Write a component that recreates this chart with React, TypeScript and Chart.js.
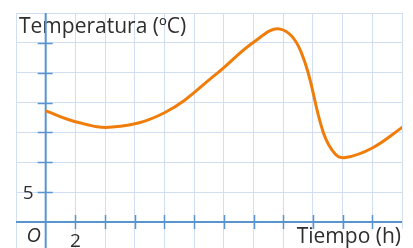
import React, { useEffect, useRef } from "react";
import { Chart, registerables } from "chart.js";

Chart.register(...registerables);

// Data (time in hours, temperature in ºC)
const hours = [0, 2, 4.5, 8, 11.5, 14.0, 15.8, 17.2, 18.7, 19.5, 20.2, 22.0, 24.1];
const temps = [18.6, 16.8, 15.9, 18.3, 24.8, 30.1, 32.3, 28.5, 15.0, 11.4, 10.8, 12.4, 16.0];

// Axis tick marks and labels
const xTickValues = [2, 4, 6, 8, 10, 12, 14, 16, 18, 20, 22];
const yTickValues = [5, 10, 15, 20, 25, 30];
const xLabelValues = [2];
const yLabelValues = [5];
const yTitle = "Temperatura (ºC)";
const xTitle = "Tiempo (h)";
const originLabel = "O";

const W = 413;
const H = 248;
const GRID = "rgb(210,223,243)";
const AXIS = "rgb(88,148,208)";
const CURVE = "#f07d0a";
const TEXT = "#2e2e2e";
const FONT = "'Open Sans', 'Noto Sans', sans-serif";

const overlay = {
  id: "overlay",
  beforeDatasetsDraw(chart: any) {
    const ctx = chart.ctx as CanvasRenderingContext2D;
    const xs = chart.scales.x;
    const ys = chart.scales.y;
    const area = chart.chartArea;
    const x0 = xs.getPixelForValue(0);
    const y0 = ys.getPixelForValue(0);
    ctx.save();

    // white box behind the x title
    ctx.fillStyle = "#ffffff";
    ctx.fillRect(290, y0 + 7, area.right - 290 + 11, H - (y0 + 7));

    // title texts
    ctx.fillStyle = TEXT;
    ctx.font = `21px ${FONT}`;
    ctx.textAlign = "left";
    ctx.textBaseline = "alphabetic";
    ctx.fillText(yTitle, area.left + 3, area.top + 20);
    ctx.textAlign = "right";
    ctx.fillText(xTitle, area.right - 1, y0 + 21);

    // axes
    ctx.strokeStyle = AXIS;
    ctx.lineWidth = 2;
    ctx.beginPath();
    ctx.moveTo(area.left, y0);
    ctx.lineTo(area.right, y0);
    ctx.moveTo(x0, area.top);
    ctx.lineTo(x0, area.bottom);
    ctx.stroke();

    ctx.lineWidth = 1.5;
    ctx.beginPath();
    for (const v of xTickValues) {
      const px = Math.round(xs.getPixelForValue(v)) + 0.5;
      ctx.moveTo(px, y0 - 7);
      ctx.lineTo(px, y0 + 7);
    }
    for (const v of yTickValues) {
      const py = Math.round(ys.getPixelForValue(v)) + 0.5;
      ctx.moveTo(x0 - 8, py);
      ctx.lineTo(x0 + 7, py);
    }
    ctx.stroke();

    // tick labels
    ctx.fillStyle = TEXT;
    ctx.font = `19px ${FONT}`;
    ctx.textAlign = "right";
    ctx.textBaseline = "middle";
    for (const v of yLabelValues) {
      ctx.fillText(String(v), x0 - 12, ys.getPixelForValue(v) + 1);
    }
    ctx.textAlign = "center";
    ctx.textBaseline = "top";
    for (const v of xLabelValues) {
      ctx.fillText(String(v), xs.getPixelForValue(v), y0 + 10);
    }
    ctx.font = `italic 20px ${FONT}`;
    ctx.textAlign = "center";
    ctx.textBaseline = "alphabetic";
    ctx.fillText(originLabel, x0 - 12, y0 + 20);
    ctx.restore();
  },
};

export default function App() {
  const ref = useRef<HTMLCanvasElement | null>(null);
  useEffect(() => {
    document.body.style.margin = "0";
    const canvas = ref.current!;
    const chart = new Chart(canvas, {
      type: "line",
      data: {
        datasets: [
          {
            data: hours.map((h, i) => ({ x: h, y: temps[i] })),
            borderColor: CURVE,
            borderWidth: 3,
            pointRadius: 0,
            fill: false,
            tension: 0.4,
          },
        ],
      },
      options: {
        responsive: false,
        animation: false,
        devicePixelRatio: 1,
        layout: { padding: { left: 16, top: 13, right: 11, bottom: 0 } },
        plugins: { legend: { display: false }, tooltip: { enabled: false } },
        scales: {
          x: {
            type: "linear",
            min: -2,
            max: 24,
            ticks: { display: false, stepSize: 2 },
            grid: { color: GRID, lineWidth: 1, drawTicks: false },
            border: { display: false },
            afterFit: (s: any) => {
              s.height = 0;
            },
          },
          y: {
            type: "linear",
            min: -4.35,
            max: 35,
            afterBuildTicks: (s: any) => {
              const t = [];
              for (let v = 0; v <= 35; v += 5) t.push({ value: v });
              s.ticks = t;
            },
            ticks: { display: false },
            grid: { color: GRID, lineWidth: 1, drawTicks: false },
            border: { display: false },
            afterFit: (s: any) => {
              s.width = 0;
            },
          },
        },
      },
      plugins: [overlay],
    });
    return () => chart.destroy();
  }, []);
  return (
    <div style={{ width: W, height: H }}>
      <canvas ref={ref} width={W} height={H} style={{ display: "block" }} />
    </div>
  );
}
